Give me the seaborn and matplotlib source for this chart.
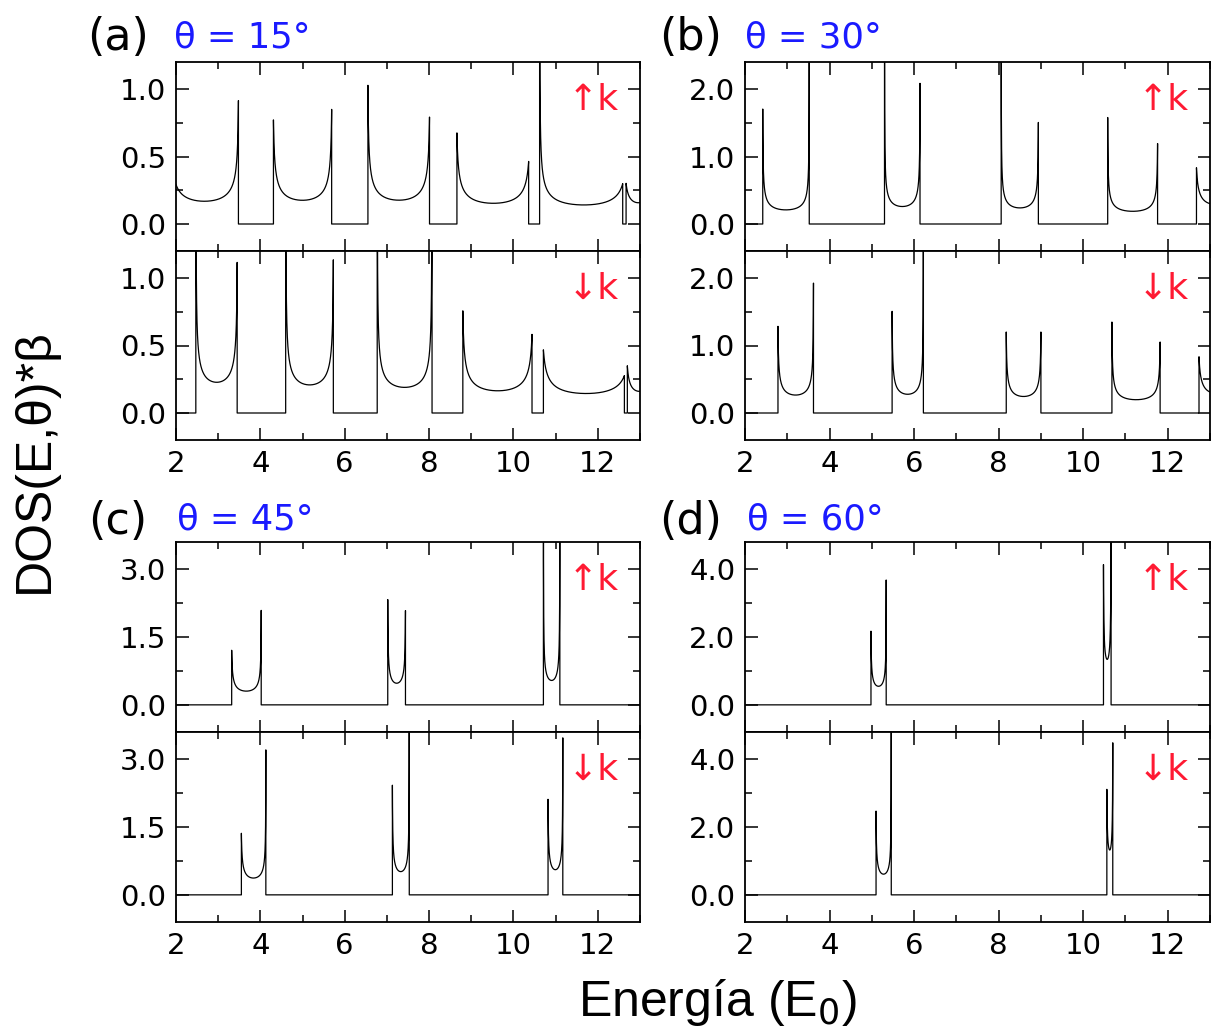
import numpy as np
import matplotlib
matplotlib.use("Agg")
import matplotlib.pyplot as plt
from matplotlib.ticker import MultipleLocator, FormatStrFormatter
import seaborn as sns

# ---------------- data ----------------
# each band: lower edge, upper edge, minimum DOS, left peak, right peak
a_up_lo = [1.85, 4.31, 6.55, 8.66, 10.62, 12.67]
a_up_hi = [3.48, 5.69, 8.01, 10.36, 12.59, 13.30]
a_up_min = [0.17, 0.18, 0.18, 0.16, 0.15, 0.17]
a_up_pl = [5.0, 0.77, 1.03, 0.68, 5.0, 0.29]
a_up_pr = [0.91, 0.85, 0.79, 0.46, 0.29, 5.0]

a_dn_lo = [2.47, 4.60, 6.77, 8.80, 10.71, 12.70]
a_dn_hi = [3.45, 5.73, 8.07, 10.44, 12.63, 13.30]
a_dn_min = [0.23, 0.21, 0.19, 0.17, 0.16, 0.17]
a_dn_pl = [5.0, 5.0, 5.0, 0.76, 0.48, 0.34]
a_dn_pr = [1.11, 1.13, 5.0, 0.58, 0.27, 5.0]

b_up_lo = [2.42, 5.30, 8.06, 10.58, 12.68]
b_up_hi = [3.52, 6.14, 8.94, 11.76, 13.60]
b_up_min = [0.21, 0.26, 0.24, 0.19, 0.30]
b_up_pl = [1.70, 9.0, 9.0, 1.58, 0.82]
b_up_pr = [9.0, 2.08, 1.50, 1.19, 9.0]

b_dn_lo = [2.78, 5.48, 8.18, 10.68, 12.74]
b_dn_hi = [3.62, 6.22, 9.00, 11.82, 13.60]
b_dn_min = [0.27, 0.28, 0.25, 0.20, 0.30]
b_dn_pl = [1.28, 1.50, 1.20, 1.35, 0.82]
b_dn_pr = [1.93, 9.0, 1.20, 1.05, 9.0]

c_up_lo = [3.32, 7.02, 10.71]
c_up_hi = [4.02, 7.44, 11.10]
c_up_min = [0.31, 0.49, 0.54]
c_up_pl = [1.20, 2.33, 12.0]
c_up_pr = [2.10, 2.08, 12.0]

c_dn_lo = [3.55, 7.13, 10.82]
c_dn_hi = [4.13, 7.53, 11.17]
c_dn_min = [0.38, 0.52, 0.57]
c_dn_pl = [1.35, 2.41, 2.10]
c_dn_pr = [3.23, 12.0, 3.49]

d_up_lo = [4.98, 10.48]
d_up_hi = [5.34, 10.66]
d_up_min = [0.56, 1.38]
d_up_pl = [2.16, 4.08]
d_up_pr = [3.70, 15.0]

d_dn_lo = [5.10, 10.56]
d_dn_hi = [5.46, 10.70]
d_dn_min = [0.62, 1.42]
d_dn_pl = [2.45, 3.07]
d_dn_pr = [15.0, 4.54]

panel_letters = ["(a)", "(b)", "(c)", "(d)"]
theta_labels = ["θ = 15°", "θ = 30°", "θ = 45°", "θ = 60°"]
y_limits = [(-0.2, 1.2), (-0.4, 2.4), (-0.6, 3.6), (-0.8, 4.8)]
y_major = [0.5, 1.0, 1.5, 2.0]
x_limits = (2, 13)

# ---------------- helpers ----------------
def band_curve(lo, hi, m, pl, pr, n=500):
    """U-shaped band between vertical edges at lo and hi, reaching the
    read peak heights pl / pr at the edges and the read minimum m inside."""
    W = hi - lo
    half = W / 2.0

    def shift(p):
        c = (m * half / p) ** 2
        return (-W + np.sqrt(W * W + 4 * c)) / 2.0

    dl, dr = shift(pl), shift(pr)
    t = np.linspace(0, 1, n)
    E = lo + W * (1 - np.cos(np.pi * t)) / 2.0
    y = m * half / np.sqrt((E - lo + dl) * (hi + dr - E))
    xs = np.concatenate([[lo], E, [hi]])
    ys = np.concatenate([[0.0], y, [0.0]])
    return xs, ys


def dos_curve(lo, hi, mins, pl, pr):
    xs = [np.array([1.0])]
    ys = [np.array([0.0])]
    for a, b, m, p1, p2 in zip(lo, hi, mins, pl, pr):
        x, y = band_curve(a, b, m, p1, p2)
        xs.append(x)
        ys.append(y)
    xs.append(np.array([14.0]))
    ys.append(np.array([0.0]))
    return np.concatenate(xs), np.concatenate(ys)


curves = {
    ("a", "up"): (a_up_lo, a_up_hi, a_up_min, a_up_pl, a_up_pr),
    ("a", "dn"): (a_dn_lo, a_dn_hi, a_dn_min, a_dn_pl, a_dn_pr),
    ("b", "up"): (b_up_lo, b_up_hi, b_up_min, b_up_pl, b_up_pr),
    ("b", "dn"): (b_dn_lo, b_dn_hi, b_dn_min, b_dn_pl, b_dn_pr),
    ("c", "up"): (c_up_lo, c_up_hi, c_up_min, c_up_pl, c_up_pr),
    ("c", "dn"): (c_dn_lo, c_dn_hi, c_dn_min, c_dn_pl, c_dn_pr),
    ("d", "up"): (d_up_lo, d_up_hi, d_up_min, d_up_pl, d_up_pr),
    ("d", "dn"): (d_dn_lo, d_dn_hi, d_dn_min, d_dn_pl, d_dn_pr),
}

# ---------------- figure ----------------
sns.set_theme(style="ticks")
plt.rcParams["font.family"] = ["DejaVu Sans"]
plt.rcParams["axes.linewidth"] = 1.3
plt.rcParams["text.color"] = "black"

W, H = 1211, 1036
fig = plt.figure(figsize=(W / 100, H / 100), dpi=100)
fig.patch.set_facecolor("white")


def px_axes(x0, x1, ytop, ybot):
    return fig.add_axes([x0 / W, 1 - ybot / H, (x1 - x0) / W, (ybot - ytop) / H])


# pixel layout: (left, right, top, mid, bottom)
layout = {
    "a": (176, 640, 62, 251, 440),
    "b": (745, 1210, 62, 251, 440),
    "c": (176, 640, 542, 732, 922),
    "d": (745, 1210, 542, 732, 922),
}
letter_pos = {"a": (118, 37), "b": (691, 37), "c": (118, 521), "d": (691, 521)}
theta_pos = {"a": (174, 37), "b": (745, 37), "c": (177, 519), "d": (747, 519)}

red = "#ff1a33"
blue = "#1a1aff"

for i, key in enumerate(["a", "b", "c", "d"]):
    x0, x1, yt, ym, yb = layout[key]
    ax_up = px_axes(x0, x1, yt, ym)
    ax_dn = px_axes(x0, x1, ym, yb)
    for ax, direc, arrow in [(ax_up, "up", "↑k"), (ax_dn, "dn", "↓k")]:
        xs, ys = dos_curve(*curves[(key, direc)])
        sns.lineplot(x=xs, y=ys, ax=ax, color="black", linewidth=0.9,
                     sort=False, estimator=None, legend=False)
        ax.set_xlim(*x_limits)
        ax.set_ylim(*y_limits[i])
        ax.xaxis.set_major_locator(MultipleLocator(2))
        ax.xaxis.set_minor_locator(MultipleLocator(1))
        ax.yaxis.set_major_locator(MultipleLocator(y_major[i]))
        ax.yaxis.set_minor_locator(MultipleLocator(y_major[i] / 2))
        ax.yaxis.set_major_formatter(FormatStrFormatter("%.1f"))
        ax.tick_params(which="both", direction="in", top=True, right=True,
                       labelsize=21, width=1.1, pad=7, colors="black")
        ax.tick_params(which="major", length=9)
        ax.tick_params(which="minor", length=5)
        ax.set_xlabel("")
        ax.set_ylabel("")
        for s in ax.spines.values():
            s.set_linewidth(1.3)
            s.set_color("black")
        ax.text(0.955, 0.80, arrow, transform=ax.transAxes, ha="right",
                va="center", color=red, fontsize=26)
    ax_up.tick_params(labelbottom=False)
    lx, ly = letter_pos[key]
    fig.text(lx / W, 1 - ly / H, panel_letters[i], ha="center", va="center",
             fontsize=32, color="black")
    tx, ty = theta_pos[key]
    fig.text(tx / W, 1 - ty / H, theta_labels[i], ha="left", va="center",
             fontsize=25.5, color=blue)

fig.text(35 / W, 1 - 461 / H, "DOS(E,θ)*β", rotation=90, ha="center",
         va="center", fontsize=36, color="black",
         family=["Liberation Sans", "DejaVu Sans"])
fig.text(717 / W, 1 - 1003 / H, "Energía (E$_0$)", ha="center", va="center",
         fontsize=36, color="black",
         family=["Liberation Sans", "DejaVu Sans"])

fig.savefig("out.png", dpi=100, facecolor="white")
